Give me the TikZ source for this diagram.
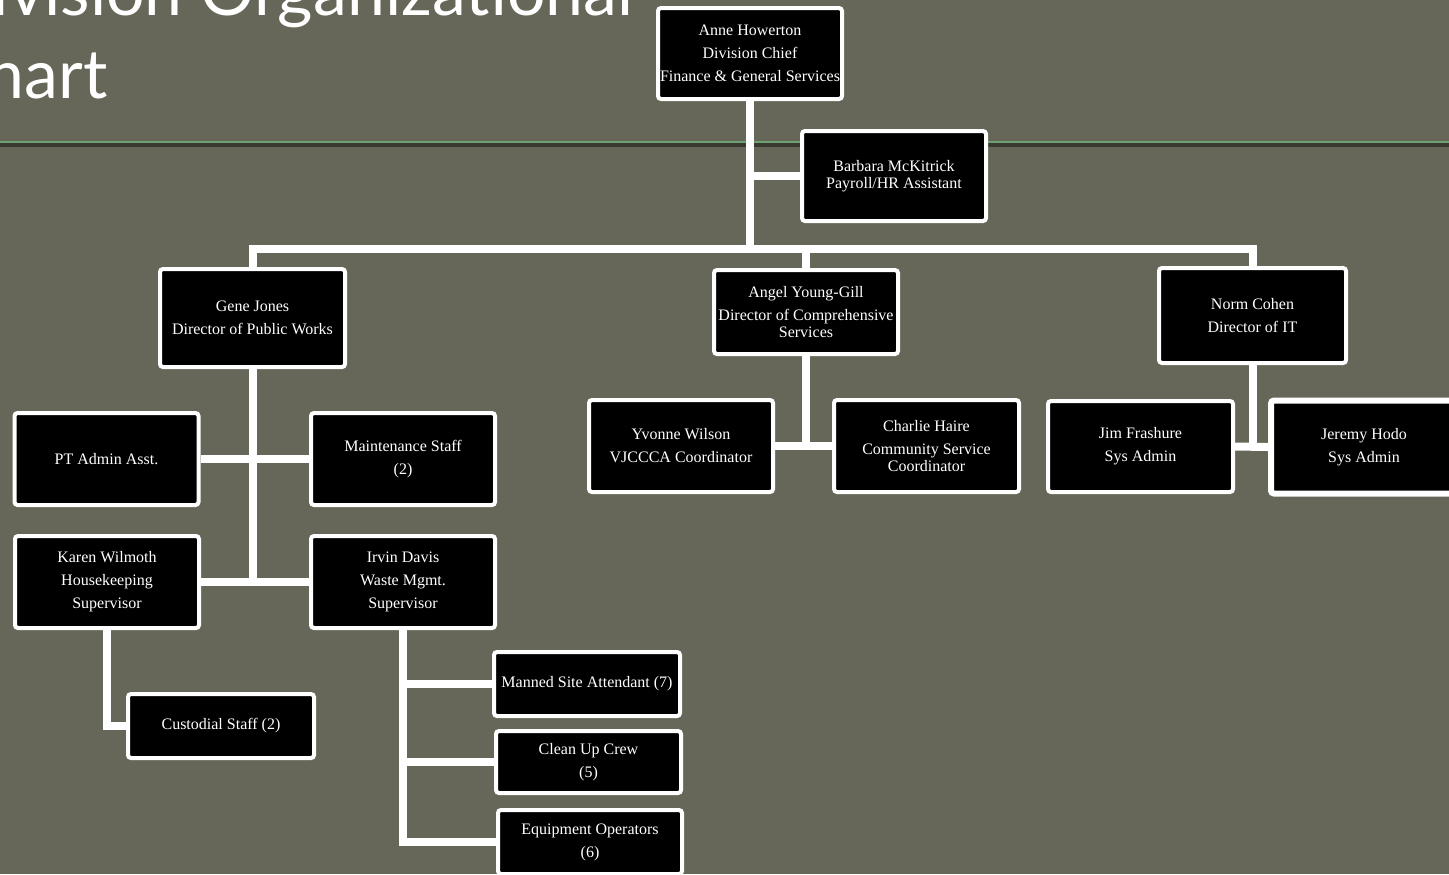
\documentclass[tikz,border=0pt]{standalone}
\usepackage{fontspec}
\setmainfont{Liberation Serif}
\newfontfamily\titlefont{Lato}
\usetikzlibrary{positioning,backgrounds}
\definecolor{BG}{HTML}{666758}
\definecolor{GL}{HTML}{6FA072}
\definecolor{SH}{HTML}{3A3A31}

\begin{document}
\begin{tikzpicture}[x=0.5pt,y=-0.5pt,
    box/.style={draw=white, line width=2pt, fill=black, rounded corners=1.5pt,
      text=white, align=center, inner sep=0pt,
      font=\fontsize{8}{11.5}\selectfont,
      minimum width=92pt, minimum height=46pt},
    small/.style={box, minimum height=32pt},
    link/.style={draw=white, line width=4pt},
    heading/.style={anchor=base east, text=white, inner sep=0pt,
      font=\titlefont\fontsize{34}{34}\selectfont}]
  \useasboundingbox (0,0) rectangle (1449,874);
  \clip (0,0) rectangle (1449,874);

  % title
  \node[heading] (head1) at (634,15) {Division Organizational};
  \node[heading] (head2) at (108,98) {Chart};

  % top
  \node[box, minimum height=45.5pt] (anne) at (750,53.5)
    {Anne Howerton\\Division Chief\\Finance \& General Services};
  \node[box, minimum height=45pt] (barbara) at (894,176)
    {Barbara McKitrick\\[-3pt]Payroll/HR Assistant};

  % directors
  \node[box, minimum width=92.5pt, minimum height=49pt] (gene) at (252.5,318)
    {Gene Jones\\Director of Public Works};
  \node[box, minimum height=42pt] (angel) at (806,312)
    {Angel Young-Gill\\Director of Comprehensive\\[-3pt]Services};
  \node[box, minimum width=93.5pt, minimum height=47.5pt] (norm) at (1252.5,315.5)
    {Norm Cohen\\Director of IT};

  % public works
  \node[box] (ptadmin) at (106.5,459) {PT Admin Asst.};
  \node[box] (maint) at (403,459) {Maintenance Staff\\(2)};
  \node[box] (karen) at (107,582) {Karen Wilmoth\\Housekeeping\\Supervisor};
  \node[box] (irvin) at (403,582) {Irvin Davis\\Waste Mgmt.\\Supervisor};
  \node[small, minimum width=93pt] (custodial) at (221,726) {Custodial Staff (2)};
  \node[small, minimum width=93pt] (manned) at (587,684) {Manned Site Attendant (7)};
  \node[small, minimum width=92.5pt, minimum height=31pt] (cleanup) at (588.5,762)
    {Clean Up Crew\\(5)};
  \node[small] (equip) at (590,842) {Equipment Operators\\(6)};

  % comprehensive services
  \node[box] (yvonne) at (681,446) {Yvonne Wilson\\VJCCCA Coordinator};
  \node[box, minimum width=92.5pt] (charlie) at (926.5,446)
    {Charlie Haire\\Community Service\\[-3pt]Coordinator};

  % IT
  \node[box, minimum width=92.5pt, minimum height=45.5pt] (jim) at (1140.5,446.5)
    {Jim Frashure\\Sys Admin};
  \node[box, line width=3pt, minimum width=93pt, minimum height=46.5pt] (jeremy) at (1364,447)
    {Jeremy Hodo\\Sys Admin};

  \begin{scope}[on background layer]
    \fill[BG] (0,0) rectangle (1449,874);
    \fill[SH] (0,143) rectangle (1449,146.5);
    \fill[GL] (0,140.5) rectangle (1449,143);
    \coordinate (bus) at (0,249);
    % connectors
    \draw[link] (anne.south) -- (anne.south |- bus);
    \draw[link] (anne.south |- barbara.west) -- (barbara.west);
    \draw[link] (gene.north) -- (gene.north |- bus) -- (norm.north |- bus) -- (norm.north);
    \draw[link] (angel.north) -- (angel.north |- bus);
    \draw[link] (gene.south) -- (gene.south |- karen.east);
    \draw[link] (ptadmin.east) -- (maint.west);
    \draw[link] (karen.east) -- (irvin.west);
    \draw[link] (karen.south) |- (custodial.west);
    \draw[link] (irvin.south) |- (equip.west);
    \foreach \n in {manned,cleanup}
      \draw[link] (irvin.south |- \n.west) -- (\n.west);
    \draw[link] (angel.south) -- (angel.south |- yvonne.east);
    \draw[link] (yvonne.east) -- (charlie.west);
    \draw[link] (norm.south) -- (norm.south |- jim.east);
    \draw[link] (jim.east) -- (jeremy.west);
  \end{scope}
\end{tikzpicture}
\end{document}
